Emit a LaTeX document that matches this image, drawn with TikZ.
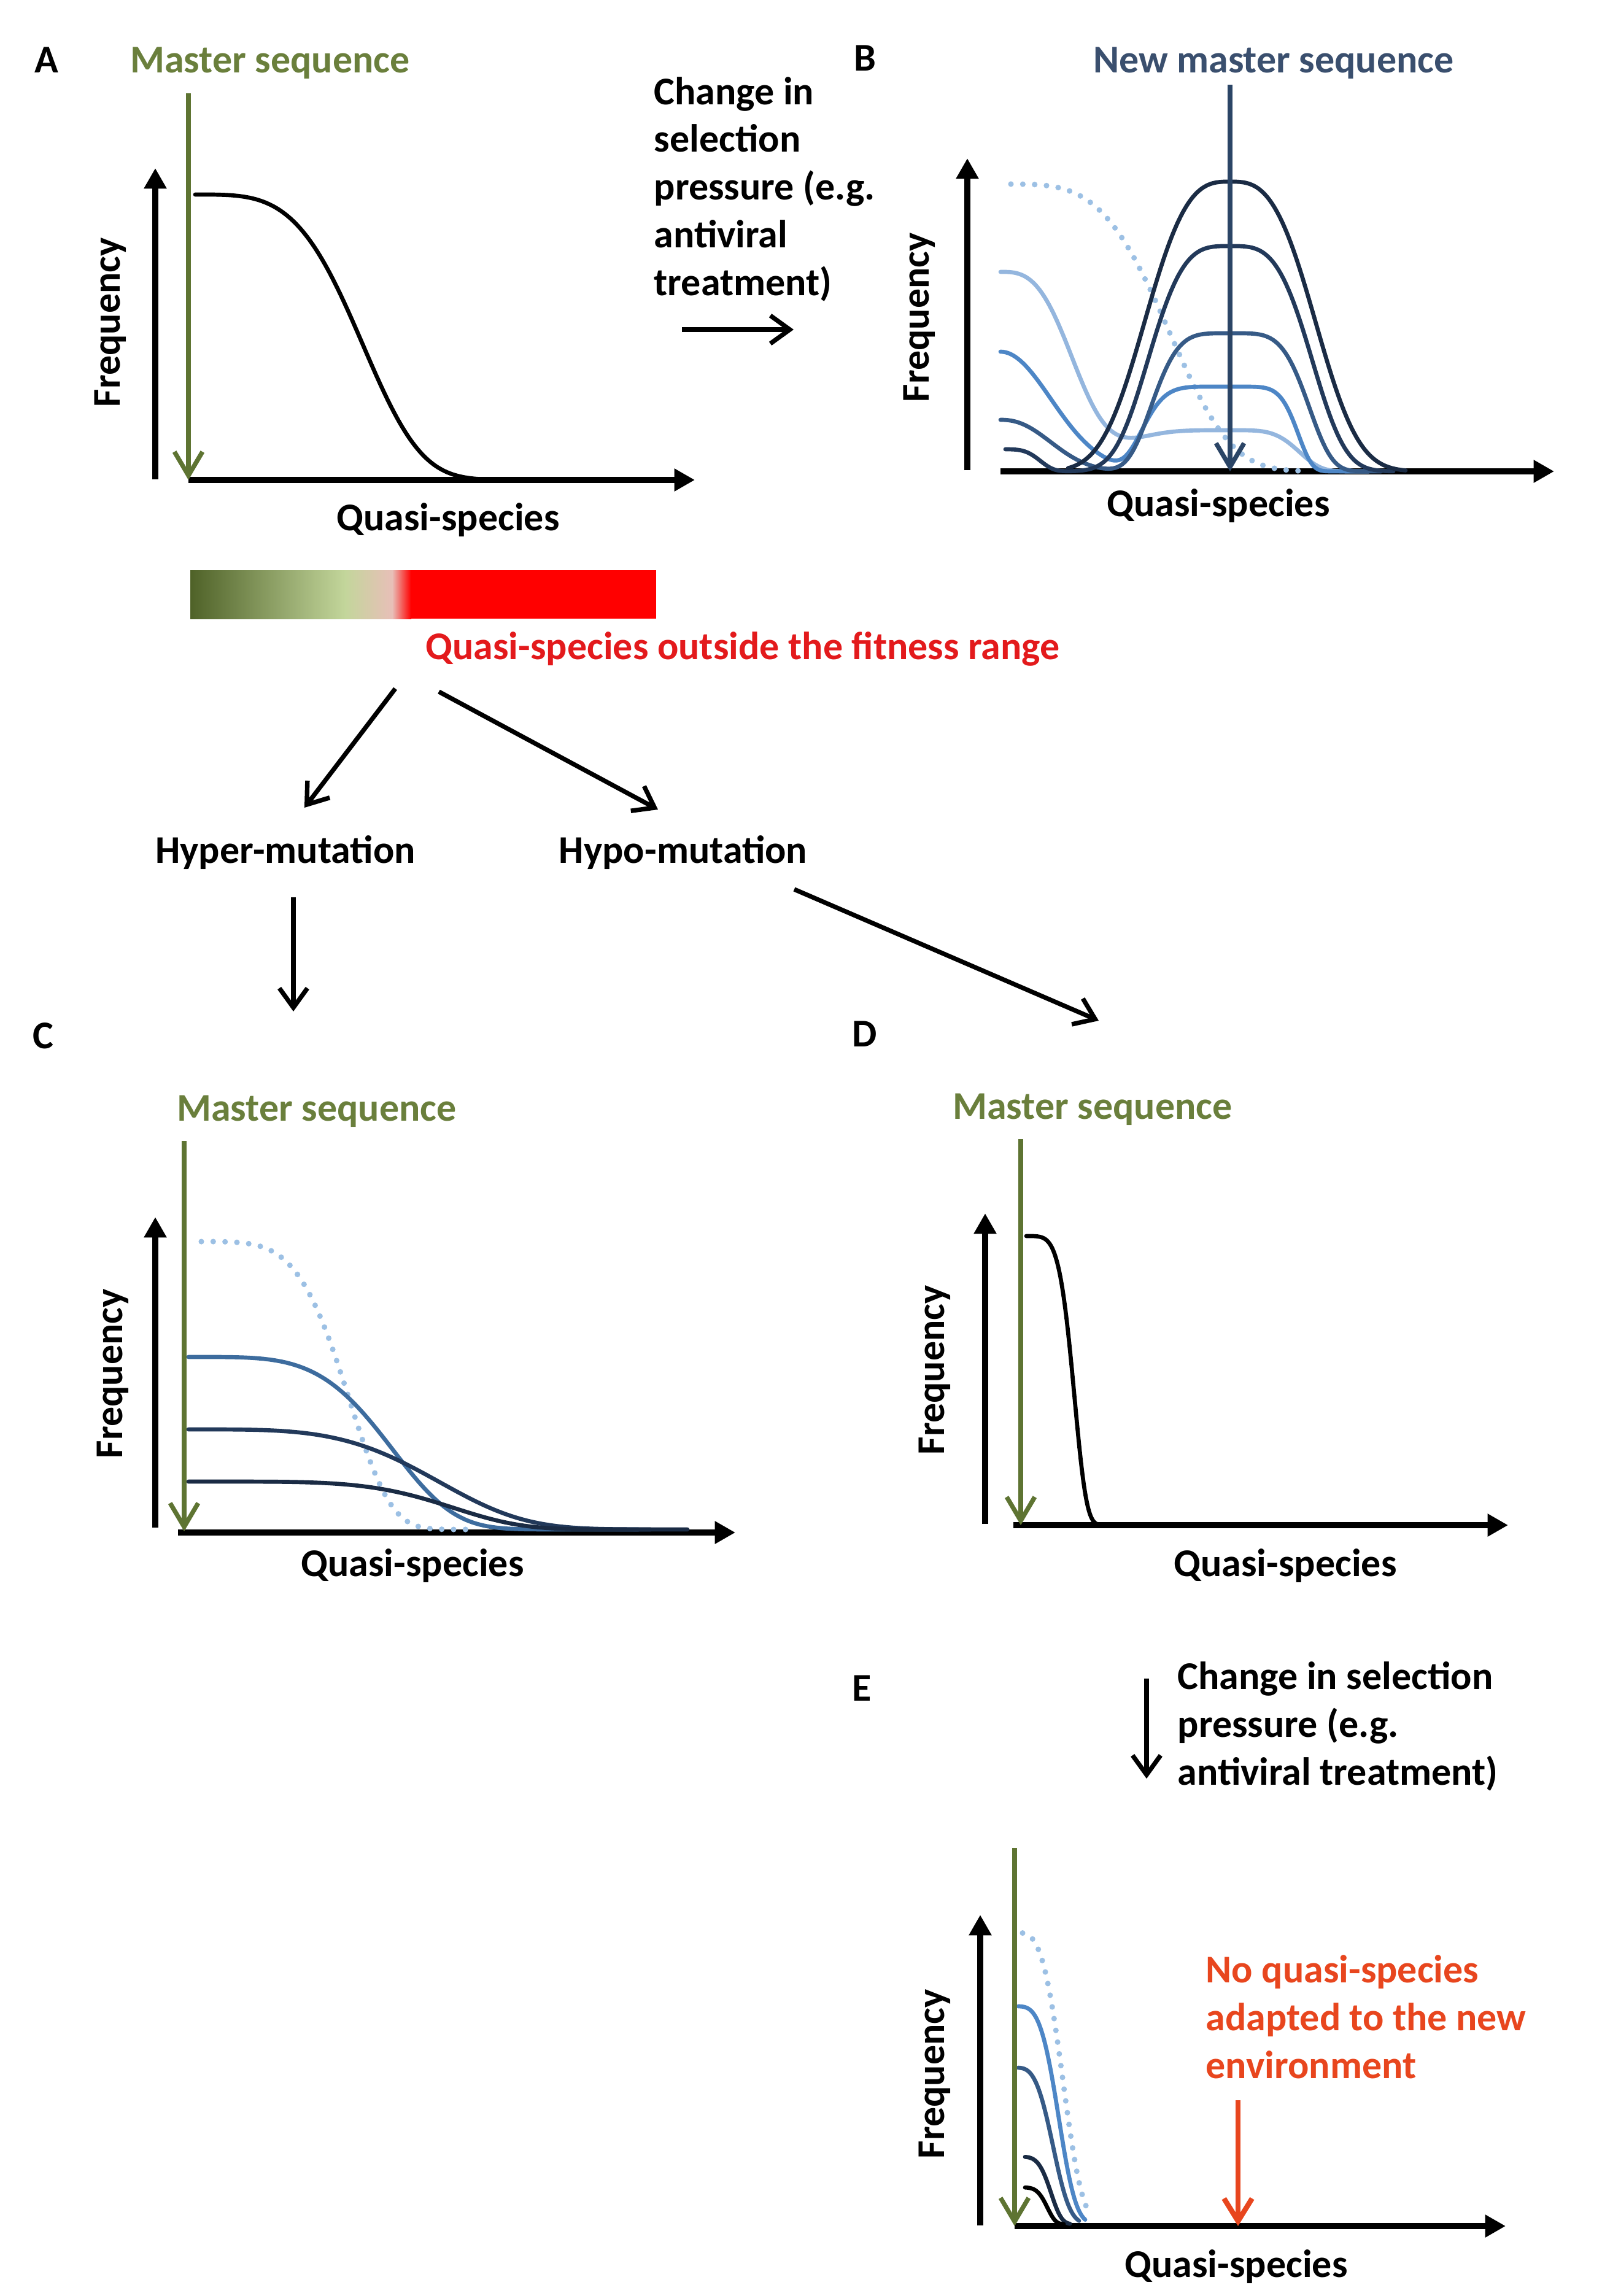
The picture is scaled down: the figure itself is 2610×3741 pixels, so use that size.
\documentclass[tikz,border=0pt]{standalone}
\usepackage{fontspec}
\setmainfont{Carlito}
\usepackage{tikz}
\usetikzlibrary{arrows.meta,shadings}
\definecolor{mastergreen}{HTML}{5E7432}
\definecolor{mastertext}{HTML}{6A7F3C}
\definecolor{newmaster}{HTML}{2B4566}
\definecolor{newmastertext}{HTML}{3A4F6E}
\definecolor{qsnavy}{HTML}{1A2B44}
\definecolor{qsdark}{HTML}{22395A}
\definecolor{qsslate}{HTML}{365A86}
\definecolor{qssteel}{HTML}{3D6C9E}
\definecolor{qsblue}{HTML}{4D86C6}
\definecolor{qslight}{HTML}{94B6DE}
\definecolor{qsdots}{HTML}{9CC0E4}
\definecolor{fitdark}{HTML}{4F6228}
\definecolor{fitlight}{HTML}{C3D69B}
\definecolor{fitpink}{HTML}{E8BFB8}
\definecolor{fitred}{HTML}{FF0000}
\definecolor{fittext}{HTML}{E31A1C}
\definecolor{warnorange}{HTML}{E8461E}
\newcommand{\qsfont}{\fontsize{18.2}{22.1}\selectfont\bfseries}
\tikzset{
  axisline/.style={black, line width=2.8pt, -{Triangle[length=9.5pt,width=10pt]}},
  yaxis/.style={black, line width=2.6pt, -{Triangle[length=9.5pt,width=10pt]}},
  masterarrow/.style={mastergreen, line width=2.1pt, -{Straight Barb[length=11pt,width=13pt]}},
  newarrow/.style={newmaster, line width=2.1pt, -{Straight Barb[length=11pt,width=13pt]}},
  flow/.style={black, line width=2.1pt, -{Straight Barb[length=9pt,width=13pt]}},
  warnarrow/.style={warnorange, line width=2.4pt, -{Straight Barb[length=10.5pt,width=13pt]}},
  curve/.style={line width=1.9pt, line cap=round},
  dots/.style={qsdots, line width=2.6pt, dash pattern=on 0pt off 5.5pt, line cap=round},
  txt/.style={font=\qsfont, inner sep=0pt}
}

\begin{document}
\begin{tikzpicture}[x=0.01cm, y=-0.01cm,
  declare function={sg(\qx,\qw,\qp)=exp(-((min(abs(\qx/\qw),4)+0.001)^\qp));}]
  \path[fill=white, use as bounding box] (0,0) rectangle (2610,3741);

  % panel A
  \node[txt, anchor=base] (labA) at (76,118) {A};
  \node[txt, anchor=base, text=mastertext] (masterA) at (440,118) {Master sequence};
  \node[txt, anchor=base, rotate=90] (freqA) at (195,525) {Frequency};
  \node[txt, anchor=base] (quasiA) at (730,864) {Quasi-species};
  \coordinate (oA) at (307,782);
  \coordinate (mA) at (307,152);
  \draw[yaxis] (253,781) -- (253,274);
  \draw[axisline] (oA) -- (1132,782);
  \draw[curve] plot[domain=11:485,samples=120] ({307+\x},{782-465*sg(\x,306,4)});
  \draw[masterarrow] (mA) -- (oA);

  % change of selection pressure, A to B
  \node[txt, anchor=base west, align=left] (pressAB) at (1065,481)
    {Change in\\selection\\pressure (e.g.\\antiviral\\treatment)};
  \coordinate (abFrom) at (1111,537);
  \coordinate (abTo) at (1293,537);
  \draw[flow] (abFrom) -- (abTo);

  % panel B
  \node[txt, anchor=base] (labB) at (1409,115) {B};
  \node[txt, anchor=base, text=newmastertext] (masterB) at (2075,118) {New master sequence};
  \node[txt, anchor=base, rotate=90] (freqB) at (1513,517) {Frequency};
  \node[txt, anchor=base] (quasiB) at (1985,841) {Quasi-species};
  \coordinate (oB) at (1630,768);
  \coordinate (mB) at (2004,138);
  \draw[yaxis] (1576,766) -- (1576,258);
  \draw[axisline] (oB) -- (2532,768);
  \draw[dots] plot[domain=17:490,samples=100] ({1630+\x},{768-468*sg(\x,300,3.8)});
  \draw[curve, qslight] plot[domain=0:600,samples=160]
    ({1630+\x},{768-325*sg(\x,140,3)-67*sg(\x-374,ifthenelse(\x<374,200,121),4.3)});
  \draw[curve, qsblue] plot[domain=0:600,samples=160]
    ({1630+\x},{768-195*sg(\x,116,2)-138*sg(\x-374,ifthenelse(\x<374,150,115),6)});
  \draw[curve, qsslate] plot[domain=0:620,samples=160]
    ({1630+\x},{768-84*sg(\x,105,2.3)-225*sg(\x-374,137,4.5)});
  \draw[curve, qsdark] plot[domain=8:640,samples=160]
    ({1630+\x},{768-36*sg(\x,70,4)-367*sg(\x-374,148,3.5)});
  \draw[curve, qsnavy] plot[domain=110:660,samples=160] ({1630+\x},{768-472*sg(\x-374,160,3)});
  \draw[newarrow] (mB) -- (2004,768);

  % fitness range
  \shade[left color=fitdark, right color=fitlight] (310,929) rectangle (563,1008);
  \shade[left color=fitlight, right color=fitpink] (562,929) rectangle (640,1008);
  \shade[left color=fitpink, right color=fitred] (639,929) rectangle (670,1008);
  \fill[fitred] (669,929) rectangle (1069,1008);
  \node[txt, anchor=base, text=fittext] (outside) at (1210,1074) {Quasi-species outside the fitness range};

  % mutation branches
  \node[txt, anchor=base] (hyper) at (465,1406) {Hyper-mutation};
  \node[txt, anchor=base] (hypo) at (1113,1406) {Hypo-mutation};
  \coordinate (forkL) at (644,1122);
  \coordinate (forkR) at (715,1127);
  \coordinate (toHyper) at (496,1316);
  \coordinate (toHypo) at (1072,1319);
  \draw[flow] (forkL) -- (toHyper);
  \draw[flow] (forkR) -- (toHypo);
  \coordinate (hyperDown) at (478,1462);
  \coordinate (toC) at (478,1648);
  \draw[flow] (hyperDown) -- (toC);
  \coordinate (hypoDown) at (1294,1449);
  \coordinate (toD) at (1790,1663);
  \draw[flow] (hypoDown) -- (toD);

  % panel C
  \node[txt, anchor=base] (labC) at (70,1708) {C};
  \node[txt, anchor=base, text=mastertext] (masterC) at (516,1826) {Master sequence};
  \node[txt, anchor=base, rotate=90] (freqC) at (199,2238) {Frequency};
  \node[txt, anchor=base] (quasiC) at (672,2568) {Quasi-species};
  \coordinate (oC) at (300,2495);
  \coordinate (mC) at (300,1859);
  \draw[yaxis] (253,2489) -- (253,1983);
  \draw[axisline] (290,2497) -- (1198,2497);
  \draw[dots] plot[domain=28:471,samples=100] ({300+\x},{2492-469*sg(\x,282,5)});
  \draw[curve, qssteel] plot[domain=7:740,samples=140] ({300+\x},{2492-281*sg(\x,361,4.4)});
  \draw[curve, qsdark] plot[domain=7:760,samples=140] ({300+\x},{2492-163*sg(\x,448,4)});
  \draw[curve, qsnavy] plot[domain=7:820,samples=140] ({300+\x},{2492-78*sg(\x,460,5)});
  \draw[masterarrow] (mC) -- (oC);

  % panel D
  \node[txt, anchor=base] (labD) at (1409,1705) {D};
  \node[txt, anchor=base, text=mastertext] (masterD) at (1780,1823) {Master sequence};
  \node[txt, anchor=base, rotate=90] (freqD) at (1538,2232) {Frequency};
  \node[txt, anchor=base] (quasiD) at (2094,2568) {Quasi-species};
  \coordinate (oD) at (1663,2485);
  \coordinate (mD) at (1663,1856);
  \draw[yaxis] (1605,2483) -- (1605,1977);
  \draw[axisline] (1651,2485) -- (2457,2485);
  \draw[curve] plot[domain=9:150,samples=100] ({1663+\x},{2485-471*sg(\x,91,5.5)});
  \draw[masterarrow] (mD) -- (oD);

  % change of selection pressure, D to E
  \node[txt, anchor=base] (labE) at (1404,2771) {E};
  \node[txt, anchor=base west, align=left] (pressDE) at (1918,2908)
    {Change in selection\\pressure (e.g.\\antiviral treatment)};
  \coordinate (deFrom) at (1868,2735);
  \coordinate (deTo) at (1868,2898);
  \draw[flow] (deFrom) -- (deTo);

  % panel E
  \node[txt, anchor=base, rotate=90] (freqE) at (1538,3379) {Frequency};
  \node[txt, anchor=base] (quasiE) at (2014,3710) {Quasi-species};
  \node[txt, anchor=base west, align=left, text=warnorange] (noadapt) at (1964,3386)
    {No quasi-species\\adapted to the new\\environment};
  \coordinate (oE) at (1653,3627);
  \coordinate (mE) at (1653,3011);
  \draw[yaxis] (1597,3626) -- (1597,3120);
  \draw[axisline] (oE) -- (2453,3627);
  \draw[dots] plot[domain=13:125,samples=80] ({1653+\x},{3624-475*sg(\x,87,3.5)});
  \draw[curve, qsblue] plot[domain=6:115,samples=80] ({1653+\x},{3624-355*sg(\x,79,3.6)});
  \draw[curve, qsslate] plot[domain=6:105,samples=80] ({1653+\x},{3624-255*sg(\x,70,3.3)});
  \draw[curve, qsnavy] plot[domain=17:90,samples=60] ({1653+\x},{3624-110*sg(\x,63,4.5)});
  \draw[curve, black] plot[domain=17:80,samples=60] ({1653+\x},{3624-60*sg(\x,56,5)});
  \draw[masterarrow] (mE) -- (oE);
  \coordinate (warnFrom) at (2017,3422);
  \coordinate (warnTo) at (2017,3627);
  \draw[warnarrow] (warnFrom) -- (warnTo);
\end{tikzpicture}
\end{document}
